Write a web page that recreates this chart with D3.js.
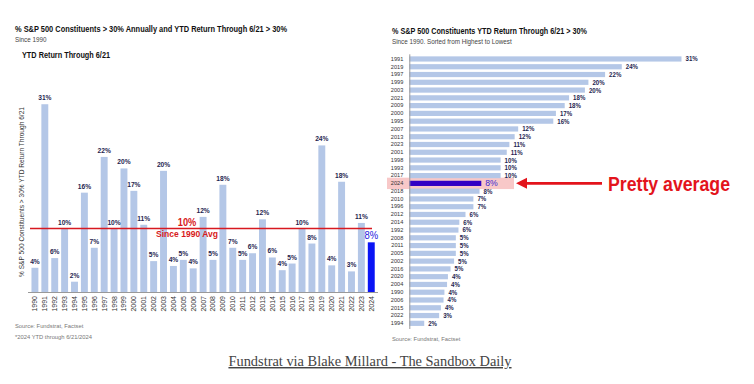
<!DOCTYPE html>
<html>
<head>
<meta charset="utf-8">
<script src="https://cdn.jsdelivr.net/npm/d3@7"></script>
<style>
    body { margin: 0; background: #fff; }
    svg { display: block; font-family: "Liberation Sans", Arial, sans-serif; }
</style>
</head>
<body>
<div class="chart_container"></div>
<script>
//^ DATA //
const years = ["1990","1991","1992","1993","1994","1995","1996","1997","1998","1999","2000","2001","2002","2003","2004","2005","2006","2007","2008","2009","2010","2011","2012","2013","2014","2015","2016","2017","2018","2019","2020","2021","2022","2023","2024"];
const values = [4.0,31.0,5.6,10.4,1.7,16.4,7.3,22.3,10.4,20.4,16.7,11.1,5.1,20.0,4.3,5.3,3.9,12.4,5.3,17.7,7.3,5.3,6.4,12.0,5.7,3.6,4.7,10.4,8.0,24.2,4.4,18.2,3.4,11.4,8.2];
// order of the right hand chart (ties kept as printed)
const sortedYears = ["1991","2019","1997","1999","2003","2021","2009","2000","1995","2007","2013","2023","2001","1998","1993","2017","2024","2018","2010","1996","2012","2014","1992","2008","2011","2005","2002","2016","2020","2004","1990","2006","2015","2022","1994"];
const highlightYear = "2024";

const width = 754;
const height = 384;
const lightBlue = "#b4c7e7";
const navy = "#1f2650";
const red = "#d71920";

const pct = (v) => Math.round(v) + "%";
const valueOf = {};
years.forEach((y, i) => (valueOf[y] = values[i]));

const svg = d3.select(".chart_container").append("svg").attr("width", width).attr("height", height);

// condensed look: squeeze text horizontally around its anchor
const squeeze = (sel, k) =>
    sel.each(function () {
        const t = d3.select(this);
        const x = +t.attr("x") || 0;
        const y = +t.attr("y") || 0;
        t.attr("x", 0).attr("y", 0).attr("transform", `translate(${x},${y}) scale(${k},1)`);
    });

//! LEFT CHART //
svg.append("text").attr("x", 15).attr("y", 32).attr("font-size", 8.6).attr("font-weight", "bold").attr("fill", "#111")
    .attr("textLength", 272).attr("lengthAdjust", "spacingAndGlyphs")
    .text("% S&P 500 Constituents > 30% Annually and YTD Return Through 6/21 > 30%");
svg.append("text").attr("x", 15).attr("y", 41.5).attr("font-size", 6.3).attr("fill", "#444").text("Since 1990");
svg.append("text").attr("x", 22).attr("y", 58).attr("font-size", 8.6).attr("font-weight", "bold").attr("fill", "#111")
    .attr("textLength", 88).attr("lengthAdjust", "spacingAndGlyphs")
    .text("YTD Return Through 6/21");

const xLeft = d3.scaleBand().domain(years).range([28.5, 377.7]).padding(0.3);
const yLeft = d3.scaleLinear().domain([0, 35]).range([292, 80]);

svg.append("text")
    .attr("transform", "translate(24,192) rotate(-90)")
    .attr("text-anchor", "middle")
    .attr("font-size", 7.4)
    .attr("fill", "#333")
    .attr("textLength", 170).attr("lengthAdjust", "spacingAndGlyphs")
    .text("% S&P 500 Constituents > 30% YTD Return Through 6/21");

svg.append("g").selectAll("rect").data(years).enter().append("rect")
    .attr("x", (d) => xLeft(d))
    .attr("y", (d) => yLeft(valueOf[d]))
    .attr("width", xLeft.bandwidth())
    .attr("height", (d) => yLeft(0) - yLeft(valueOf[d]))
    .attr("fill", (d) => (d === highlightYear ? "#0a14f5" : lightBlue));

svg.append("g").selectAll("text").data(years).enter().append("text")
    .attr("x", (d) => xLeft(d) + xLeft.bandwidth() / 2)
    .attr("y", (d) => yLeft(valueOf[d]) - (d === highlightYear ? 3 : 4))
    .attr("text-anchor", "middle")
    .attr("font-size", (d) => (d === highlightYear ? 10.5 : 7.4))
    .attr("font-weight", (d) => (d === highlightYear ? "normal" : "bold"))
    .attr("fill", (d) => (d === highlightYear ? "#1d22e0" : navy))
    .text((d) => pct(valueOf[d]))
    .call(squeeze, 0.9);

const xAxisLeft = d3.axisBottom(xLeft).tickSize(0).tickPadding(0);
const gx = svg.append("g").attr("transform", "translate(0,292)").call(xAxisLeft);
gx.select(".domain").attr("stroke", "#999").attr("d", "M28,0.5H378");
gx.selectAll("text")
    .attr("transform", "rotate(-90)")
    .attr("text-anchor", "end")
    .attr("x", -4)
    .attr("y", 0)
    .attr("dy", "0.35em")
    .attr("font-size", 7)
    .attr("font-family", null)
    .attr("fill", "#333");

//^ AVERAGE LINE //
const avg = d3.mean(values.slice(0, values.length - 1));
svg.append("line").attr("x1", 30).attr("x2", 372).attr("y1", yLeft(avg)).attr("y2", yLeft(avg))
    .attr("stroke", red).attr("stroke-width", 1.3);
svg.append("text").attr("x", 187).attr("y", yLeft(avg) - 3).attr("text-anchor", "middle").attr("font-size", 10.5)
    .attr("font-weight", "bold").attr("fill", red).text(pct(avg))
    .call(squeeze, 0.88);
svg.append("text").attr("x", 156).attr("y", yLeft(avg) + 8.5).attr("font-size", 9.5)
    .attr("font-weight", "bold").attr("fill", red)
    .attr("textLength", 62).attr("lengthAdjust", "spacingAndGlyphs")
    .text("Since 1990 Avg");

svg.append("text").attr("x", 15).attr("y", 328).attr("font-size", 5.8).attr("fill", "#777").text("Source: Fundstrat, Factset");
svg.append("text").attr("x", 15).attr("y", 339).attr("font-size", 5.8).attr("fill", "#777").text("*2024 YTD through 6/21/2024");

//! RIGHT CHART //
svg.append("text").attr("x", 392).attr("y", 34).attr("font-size", 8.4).attr("font-weight", "bold").attr("fill", "#111")
    .attr("textLength", 195).attr("lengthAdjust", "spacingAndGlyphs")
    .text("% S&P 500 Constituents YTD Return Through 6/21 > 30%");
svg.append("text").attr("x", 392).attr("y", 44).attr("font-size", 6.3).attr("fill", "#444")
    .text("Since 1990. Sorted from Highest to Lowest");

const yRight = d3.scaleBand().domain(sortedYears).range([53.8, 328.5]).padding(0.33);
const xRight = d3.scaleLinear().domain([0, 35]).range([409.3, 716.6]);

//^ HIGHLIGHT BACKGROUND //
svg.append("rect")
    .attr("x", 387).attr("width", 127)
    .attr("y", yRight(highlightYear) + yRight.bandwidth() / 2 - 5.7).attr("height", 11.4)
    .attr("fill", "#f8c8c8");

svg.append("g").selectAll("rect").data(sortedYears).enter().append("rect")
    .attr("x", xRight(0))
    .attr("y", (d) => yRight(d))
    .attr("height", yRight.bandwidth())
    .attr("width", (d) => xRight(valueOf[d]) - xRight(0))
    .attr("fill", (d) => (d === highlightYear ? "#3200c4" : lightBlue));

svg.append("g").selectAll("text").data(sortedYears).enter().append("text")
    .attr("x", (d) => xRight(valueOf[d]) + 4)
    .attr("y", (d) => yRight(d) + yRight.bandwidth() / 2 - (d === highlightYear ? 0.4 : 0))
    .attr("dy", "0.36em")
    .attr("font-size", (d) => (d === highlightYear ? 9.6 : 6.8))
    .attr("font-weight", (d) => (d === highlightYear ? "normal" : "bold"))
    .attr("fill", (d) => (d === highlightYear ? "#3a28d0" : navy))
    .text((d) => pct(valueOf[d]))
    .call(squeeze, 0.9);

const yAxisRight = d3.axisLeft(yRight).tickSize(0).tickPadding(6);
const gy = svg.append("g").attr("transform", "translate(409.3,0)").call(yAxisRight);
gy.select(".domain").attr("stroke", "#999");
gy.selectAll("text").attr("font-size", 5.6).attr("font-family", null).attr("fill", "#333");

//^ ARROW + CALLOUT //
const arrowY = yRight(highlightYear) + yRight.bandwidth() / 2;
svg.append("line").attr("x1", 602).attr("x2", 524).attr("y1", arrowY).attr("y2", arrowY)
    .attr("stroke", "#e3141c").attr("stroke-width", 2.6);
svg.append("path")
    .attr("d", `M516,${arrowY}L527,${arrowY - 5.5}L527,${arrowY + 5.5}Z`)
    .attr("fill", "#e3141c");
svg.append("text").attr("x", 608).attr("y", arrowY + 7.5).attr("font-size", 21).attr("font-weight", "bold")
    .attr("fill", "#e3141c")
    .attr("textLength", 122).attr("lengthAdjust", "spacingAndGlyphs")
    .text("Pretty average");

svg.append("text").attr("x", 392).attr("y", 341).attr("font-size", 5.8).attr("fill", "#777").text("Source: Fundstrat, Factset");

//! FOOTER //
svg.append("text").attr("x", 370).attr("y", 366).attr("text-anchor", "middle")
    .attr("font-family", "'Liberation Serif', serif").attr("font-size", 14.4).attr("fill", "#444")
    .attr("text-decoration", "underline")
    .text("Fundstrat via Blake Millard - The Sandbox Daily");
</script>
</body>
</html>
